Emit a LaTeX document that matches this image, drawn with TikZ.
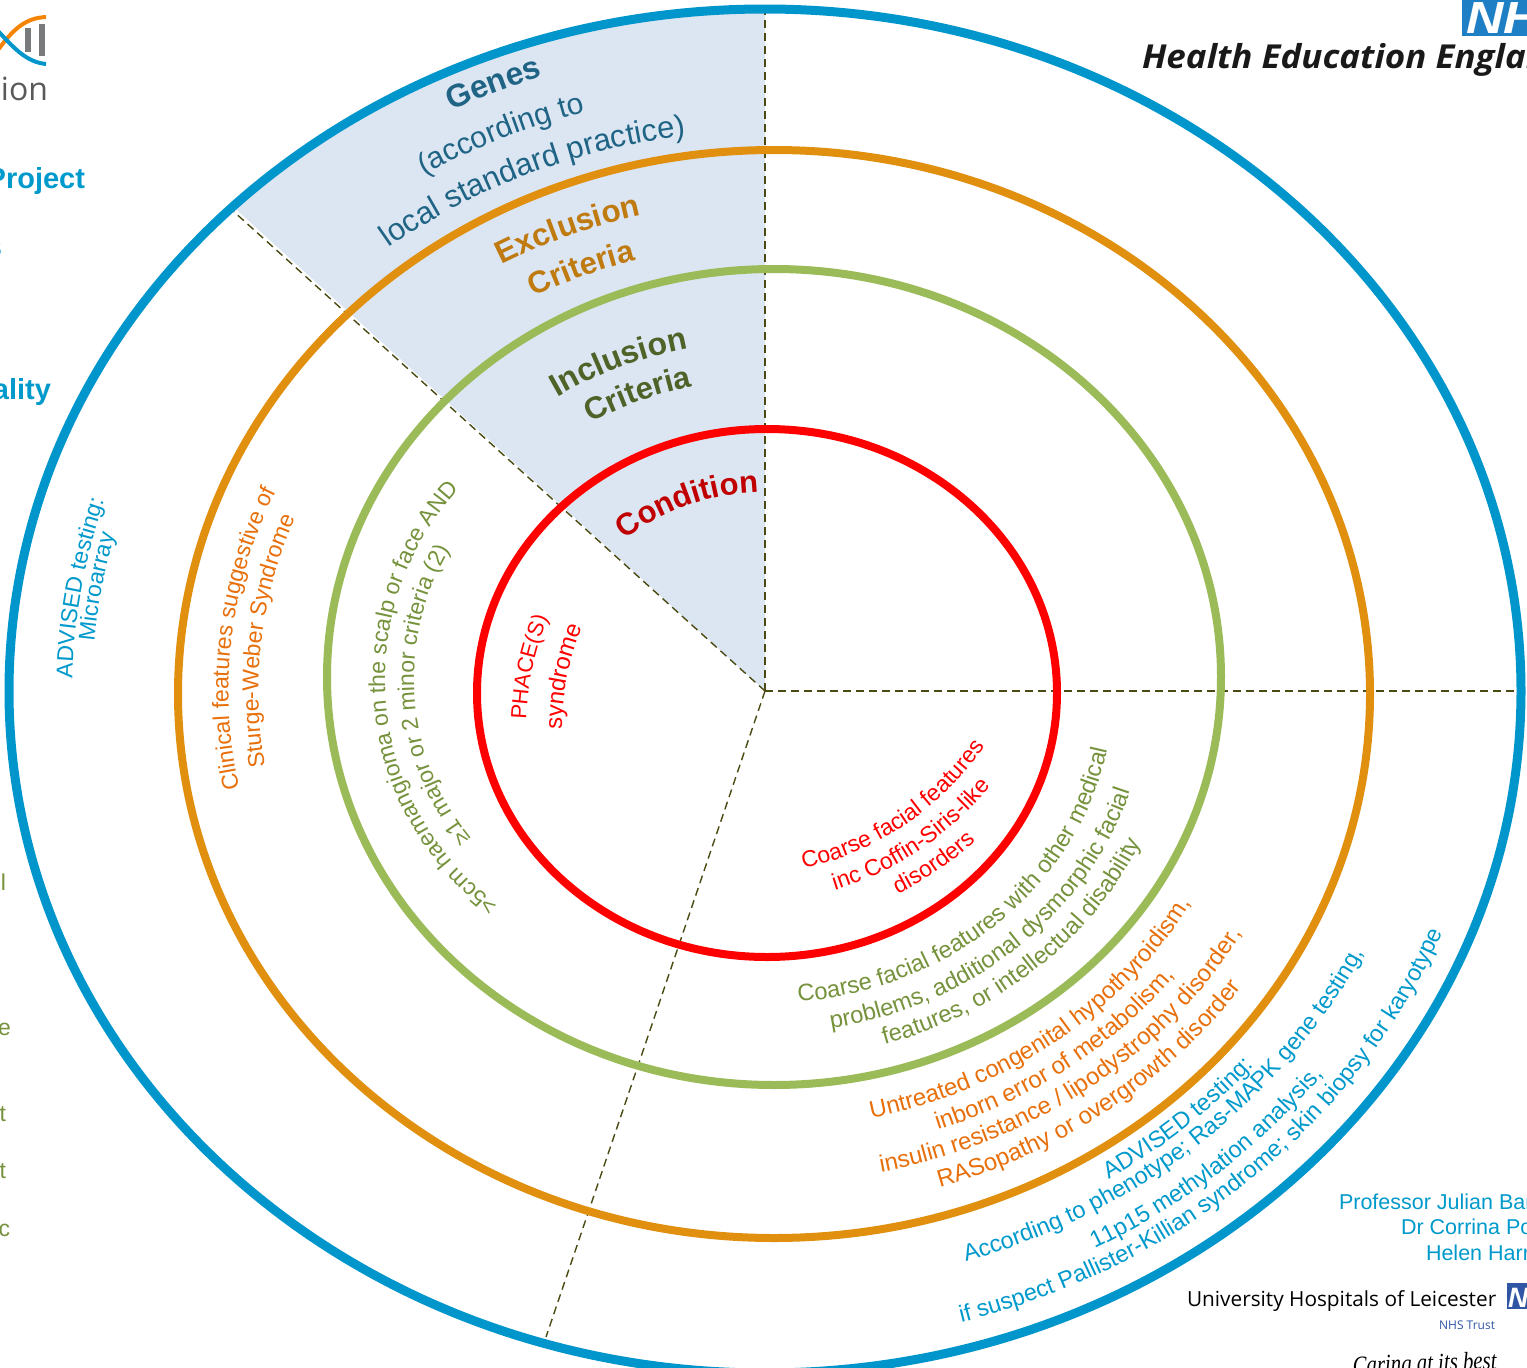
\documentclass[tikz,border=0pt]{standalone}
\usepackage{fontspec}
\setmainfont{Liberation Sans}
\newfontfamily\humanist{Open Sans}
\newfontfamily\serifish{Liberation Serif}
\usetikzlibrary{decorations.text}
\definecolor{ringblue}{HTML}{0096CC}
\definecolor{ringorange}{HTML}{E08F0E}
\definecolor{ringgreen}{HTML}{9BBB59}
\definecolor{sector}{HTML}{DCE6F2}
\definecolor{dash}{HTML}{4A4A12}
\definecolor{txgenes}{HTML}{1F6485}
\definecolor{txexcl}{HTML}{BF7A10}
\definecolor{txincl}{HTML}{4F6228}
\definecolor{txcond}{HTML}{C00000}
\definecolor{txgreen}{HTML}{76923C}
\definecolor{txorange}{HTML}{E8700C}
\definecolor{txblue}{HTML}{0099CC}
\definecolor{nhsblue}{HTML}{1E7FC4}
\definecolor{uhlblue}{HTML}{2F55A4}
\definecolor{logogrey}{HTML}{58595B}
\newcommand{\fs}[1]{\fontsize{#1}{#1}\selectfont}
% general elliptical text: cx, cy, rx, ry, mid angle, signed half range, format, text
\newcommand{\arctext}[8]{%
  \pgfmathsetmacro\tA{#5-#6}\pgfmathsetmacro\tB{#5+#6}%
  \path[decorate,decoration={text along path,text align=center,text={|#7|#8}}]
    plot[domain=\tA:\tB,samples=80] ({#1+#3*cos(\x)},{#2-#4*sin(\x)});}
% text on an ellipse about the hub: ry, mid angle, signed half range, format, text
\newcommand{\hubtext}[5]{\pgfmathsetmacro\rX{1.108*#1}\arctext{768}{691}{\rX}{#1}{#2}{#3}{#4}{#5}}
\tikzset{
  ring/.style={line width=#1,fill=none},
  divider/.style={draw=dash,line width=1.4pt,dash pattern=on 8pt off 5pt},
  edge text/.style={inner sep=0pt,outer sep=0pt},
}
\begin{document}
\begin{tikzpicture}[x=1pt,y=-1pt]
\useasboundingbox (0,0) rectangle (1527,1368);
\coordinate (hub) at (765,691);
\coordinate (top) at (765,10);
\coordinate (upleft) at (232,210);
\coordinate (right) at (1520,691);
\coordinate (bottom) at (546,1337);
% shaded sector
\begin{scope}
  \clip (765,691) ellipse [x radius=756pt,y radius=682pt];
  \fill[sector] (hub) -- (100,85.6) -- (100,0) -- (765,0) -- cycle;
\end{scope}
% dividers
\draw[divider] (hub) -- (top);
\draw[divider] (hub) -- (upleft);
\draw[divider] (hub) -- (right);
\draw[divider] (hub) -- (bottom);
% rings
\draw[ring=9pt,ringblue] (765,691) ellipse [x radius=756pt,y radius=682pt];
\draw[ring=8pt,ringorange] (774,694) ellipse [x radius=596pt,y radius=544pt];
\draw[ring=8pt,ringgreen] (774,677) ellipse [x radius=447pt,y radius=408pt];
\draw[ring=8pt,red] (767,693) ellipse [x radius=290pt,y radius=264pt];
% sector headings
\hubtext{647}{112.6}{-25}{\fs{32}\bfseries\color{txgenes}}{Genes}
\hubtext{602}{113.8}{-25}{\fs{30}\color{txgenes}}{(according to}
\hubtext{560}{113}{-30}{\fs{31}\color{txgenes}}{local standard practice)}
\hubtext{489}{111.9}{-30}{\fs{31.5}\bfseries\color{txexcl}}{Exclusion}
\hubtext{447}{112.3}{-30}{\fs{31}\bfseries\color{txexcl}}{Criteria}
\hubtext{350}{113}{-35}{\fs{32}\bfseries\color{txincl}}{Inclusion}
\hubtext{312}{112.3}{-35}{\fs{31}\bfseries\color{txincl}}{Criteria}
\hubtext{199}{112.4}{-50}{\fs{31}\bfseries\color{txcond}}{Condition}
% left sector
\hubtext{628}{170.8}{-30}{\fs{23}\color{txblue}}{ADVISED testing:}
\hubtext{610}{170.5}{-30}{\fs{23}\color{txblue}}{Microarray}
\hubtext{487}{174}{-50}{\fs{23}\color{txorange}}{Clinical features suggestive of}
\hubtext{460}{174}{-50}{\fs{23}\color{txorange}}{Sturge-Weber Syndrome}
\arctext{666}{679}{281}{281}{185.4}{-70}{\fs{23}\color{txgreen}}{>5cm haemangioma on the scalp or face AND}
\arctext{666}{679}{252}{252}{184.2}{-70}{\fs{23}\color{txgreen}}{≥1 major or 2 minor criteria (2)}
\arctext{826}{730}{300}{300}{168}{-30}{\fs{22}\color{red}}{PHACE(S)}
\arctext{826}{730}{264}{264}{168.5}{-30}{\fs{24}\color{red}}{syndrome}
% right sector
\arctext{738}{576}{300}{300}{304}{35}{\fs{23}\color{red}}{Coarse facial features}
\arctext{738}{576}{329}{329}{303.7}{35}{\fs{23}\color{red}}{inc Coffin-Siris-like}
\arctext{738}{576}{356}{356}{304.3}{30}{\fs{23}\color{red}}{disorders}
\hubtext{312}{313.3}{60}{\fs{23.7}\color{txgreen}}{Coarse facial features with other medical}
\hubtext{342}{312.7}{60}{\fs{23.7}\color{txgreen}}{problems, additional dysmorphic facial}
\hubtext{369}{312.6}{55}{\fs{23.7}\color{txgreen}}{features, or intellectual disability}
\hubtext{437}{307.8}{50}{\fs{24}\color{txorange}}{Untreated congenital hypothyroidism,}
\hubtext{465}{306.9}{45}{\fs{24}\color{txorange}}{inborn error of metabolism,}
\hubtext{492}{307.4}{50}{\fs{24}\color{txorange}}{insulin resistance / lipodystrophy disorder,}
\hubtext{520}{307.4}{45}{\fs{24}\color{txorange}}{RASopathy or overgrowth disorder}
\hubtext{577}{311.5}{30}{\fs{23.5}\color{txblue}}{ADVISED testing:}
\hubtext{598}{311.7}{45}{\fs{23.5}\color{txblue}}{According to phenotype; Ras-MAPK gene testing,}
\hubtext{631}{310.8}{30}{\fs{23.5}\color{txblue}}{11p15 methylation analysis,}
\hubtext{655}{312.8}{45}{\fs{23.5}\color{txblue}}{if suspect Pallister-Killian syndrome; skin biopsy for karyotype}
% top-left logo fragment
\draw[orange!70!ringorange,line width=4pt] (-2,50) .. controls (14,28) and (26,18) .. (46,17);
\draw[ringblue,line width=4pt] (-2,31) .. controls (14,48) and (26,62) .. (46,64);
\fill[logogrey!80] (25,28) rectangle (31,52);
\fill[logogrey!80] (39,24) rectangle (45,56);
\node[edge text,anchor=base east,text=logogrey] (logotext) at (48,100) {\humanist\fs{32}ion};
% cut-off texts at the left edge
\node[edge text,anchor=base east,text=txblue] (project) at (85,188) {\fs{29}\bfseries Project};
\node[edge text,anchor=base east,text=txblue] (leftS) at (2,256) {\fs{29}\bfseries s};
\node[edge text,anchor=base east,text=txblue] (quality) at (51,399) {\fs{29}\bfseries ality};
\node[edge text,anchor=base east,text=txgreen] (edgeA) at (6,890) {\fs{23}l};
\node[edge text,anchor=base east,text=txgreen] (edgeB) at (11,1035) {\fs{23}e};
\node[edge text,anchor=base east,text=txgreen] (edgeC) at (6,1121) {\fs{23}t};
\node[edge text,anchor=base east,text=txgreen] (edgeD) at (6,1178) {\fs{23}t};
\node[edge text,anchor=base east,text=txgreen] (edgeE) at (10,1236) {\fs{23}c};
% top-right logo
\fill[nhsblue] (1462,-2) rectangle (1530,36);
\node[edge text,anchor=base west,text=white] (nhs) at (1466,33) {\scalebox{1.15}[1]{\fs{45}\bfseries\itshape NH}};
\node[edge text,anchor=base west,text=black!90] (hee) at (1142,68) {\scalebox{1.06}[1]{\humanist\fs{33}\bfseries\itshape Health Education England}};
% bottom-right credits
\node[edge text,anchor=base west,text=txblue] (credA) at (1339,1209) {\fs{21.5}Professor Julian Bar};
\node[edge text,anchor=base west,text=txblue] (credB) at (1401,1234) {\fs{21.5}Dr Corrina Po};
\node[edge text,anchor=base west,text=txblue] (credC) at (1426,1260) {\fs{21.5}Helen Harr};
\node[edge text,anchor=base west] (uhl) at (1187,1306) {\humanist\fs{20.8}University Hospitals of Leicester};
\node[edge text,anchor=base east,text=uhlblue] (trust) at (1495,1329) {\humanist\fs{12}NHS Trust};
\fill[uhlblue] (1507,1283) rectangle (1530,1309);
\node[edge text,anchor=base west,text=white] (uhlN) at (1508,1307) {\fs{28}\bfseries\itshape N};
\node[edge text,anchor=base west,rotate=2] (caring) at (1353,1374) {\scalebox{0.8}[1]{\serifish\fs{26}\itshape Caring at its best}};
\end{tikzpicture}
\end{document}
